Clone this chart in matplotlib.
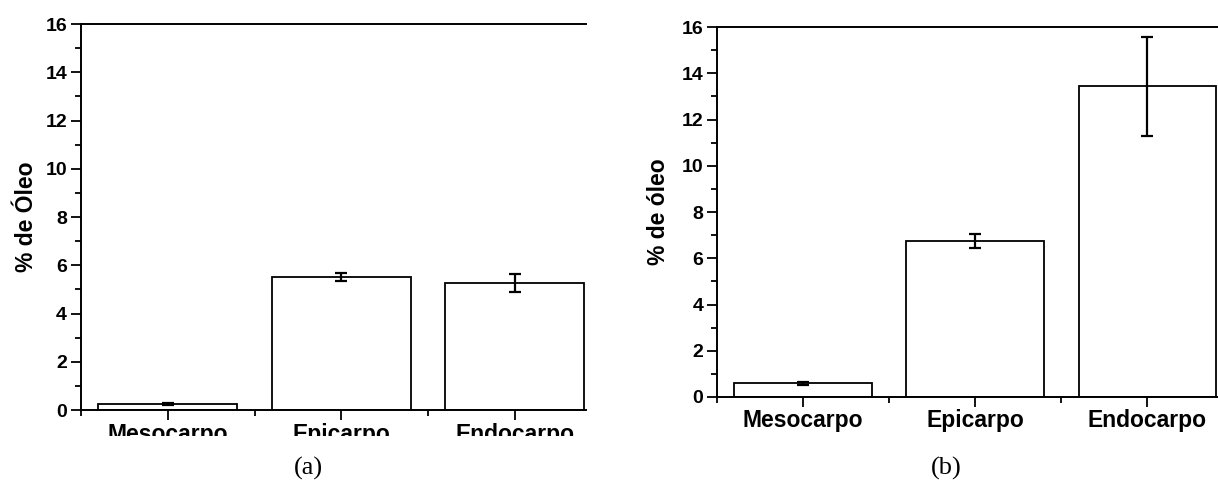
import matplotlib
matplotlib.use("Agg")
import matplotlib.pyplot as plt
from matplotlib.patches import Rectangle
from matplotlib.ticker import MultipleLocator, FixedLocator

plt.rcParams['font.family'] = ['Liberation Sans', 'DejaVu Sans']
plt.rcParams['font.weight'] = 'bold'

categories = ['Mesocarpo', 'Epicarpo', 'Endocarpo']

# panel (a)
oil_a = [0.25, 5.51, 5.27]
err_a = [0.03, 0.15, 0.38]

# panel (b)
oil_b = [0.60, 6.76, 13.43]
err_b = [0.06, 0.30, 2.15]


def bar_panel(ax, values, errors, ylabel):
    x = range(len(categories))
    ax.bar(x, values, width=0.8, color='white', edgecolor='black', linewidth=1.3, zorder=2)
    ax.errorbar(x, values, yerr=errors, fmt='none', ecolor='black',
                elinewidth=1.6, capsize=4, capthick=1.6, zorder=3)
    ax.set_xlim(-0.5, 2.41)
    ax.set_ylim(0, 16)
    ax.set_xticks(list(x))
    ax.set_xticklabels(categories, fontsize=16.5, fontweight='bold')
    ax.xaxis.set_minor_locator(FixedLocator([-0.5, 0.5, 1.5]))
    ax.yaxis.set_major_locator(MultipleLocator(2))
    ax.yaxis.set_minor_locator(MultipleLocator(1))
    ax.tick_params(axis='both', which='major', direction='out', length=7, width=1.3,
                   labelsize=14, pad=3)
    ax.tick_params(axis='both', which='minor', direction='out', length=4, width=1.3)
    ax.tick_params(axis='x', which='major', labelsize=16.5, pad=2)
    for t in ax.get_yticklabels():
        t.set_fontweight('bold')
    ax.spines['right'].set_visible(False)
    for s in ['left', 'bottom', 'top']:
        ax.spines[s].set_linewidth(1.4)
    ax.set_ylabel(ylabel, fontsize=16.5, fontweight='bold')


fig = plt.figure(figsize=(12.18, 4.88), dpi=100)

ax1 = fig.add_axes([0.0665, 0.1598, 0.4146, 0.791])
bar_panel(ax1, oil_a, err_a, '% de Óleo')
ax1.yaxis.set_label_coords(-0.085, 0.5)

ax2 = fig.add_axes([0.5887, 0.1865, 0.4113, 0.758])
bar_panel(ax2, oil_b, err_b, '% de óleo')
ax2.yaxis.set_label_coords(-0.094, 0.5)

# the x labels of panel (a) are cut off in the original
clip = Rectangle((0, 0.1066), 0.5, 0.9, transform=fig.transFigure, visible=False)
fig.add_artist(clip)
for t in ax1.get_xticklabels():
    t.set_clip_on(True)
    t.set_clip_path(clip)

fig.text(0.2529, 0.041, '(a)', ha='center', va='center', fontsize=19,
         fontweight='normal', family='Liberation Serif')
fig.text(0.7767, 0.041, '(b)', ha='center', va='center', fontsize=19,
         fontweight='normal', family='Liberation Serif')

plt.savefig('out.png', dpi=100)
plt.close()
